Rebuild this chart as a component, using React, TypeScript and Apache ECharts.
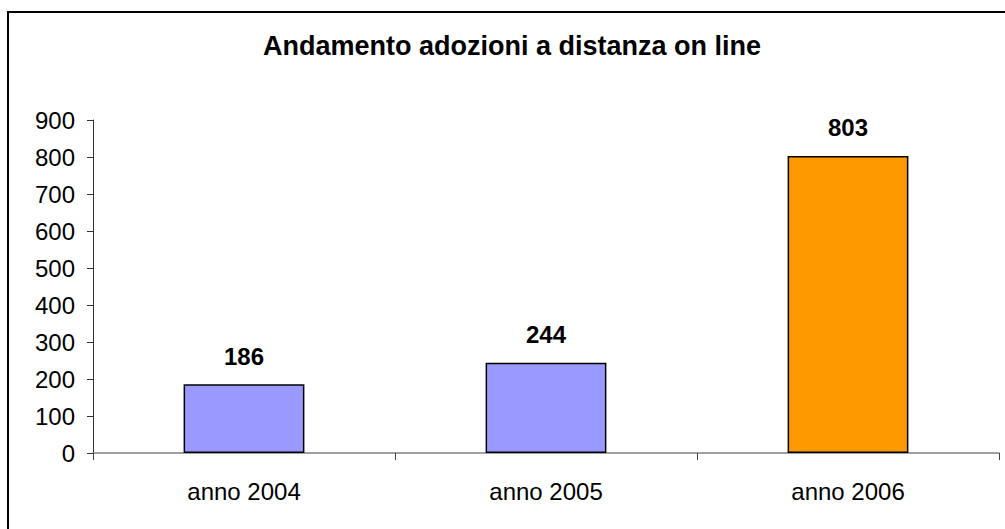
import React, { useEffect, useRef } from "react";
import * as echarts from "echarts";

const TITLE = "Andamento adozioni a distanza on line";
const categories = ["anno 2004", "anno 2005", "anno 2006"];
const values = [186, 244, 803];
const yTicks = [0, 100, 200, 300, 400, 500, 600, 700, 800, 900];

const BAR_COLORS = ["#9999FF", "#9999FF", "#FF9900"];
const FONT = "'Liberation Sans', Arial, sans-serif";

export default function App() {
  const ref = useRef<HTMLDivElement>(null);
  useEffect(() => {
    document.body.style.margin = "0";
    const chart = echarts.init(ref.current!, undefined, { renderer: "svg" });
    chart.setOption({
      animation: false,
      backgroundColor: "#ffffff",
      graphic: [
        {
          type: "rect",
          shape: { x: 8, y: 12, width: 1010, height: 530 },
          style: { fill: "none", stroke: "#000", lineWidth: 2 },
          silent: true,
        },
        {
          type: "text",
          x: 512,
          y: 46,
          style: {
            text: TITLE,
            font: `bold 27px ${FONT}`,
            fill: "#000",
            textAlign: "center",
            textVerticalAlign: "middle",
          },
        },
      ],
      grid: { left: 93, right: 6, top: 120, bottom: 76, containLabel: false },
      xAxis: {
        type: "category",
        data: categories,
        boundaryGap: true,
        axisLine: { lineStyle: { color: "#808080", width: 1.5 } },
        axisTick: { show: true, length: 7, lineStyle: { color: "#404040", width: 1 } },
        axisLabel: { color: "#000", fontFamily: FONT, fontSize: 24, margin: 26 },
        splitLine: { show: false },
      },
      yAxis: {
        type: "value",
        min: yTicks[0],
        max: yTicks[yTicks.length - 1],
        interval: 100,
        axisLine: { show: true, lineStyle: { color: "#333", width: 1 } },
        axisTick: { show: true, length: 6, lineStyle: { color: "#333", width: 1 } },
        axisLabel: { color: "#000", fontFamily: FONT, fontSize: 24, margin: 18 },
        splitLine: { show: false },
      },
      series: [
        {
          type: "bar",
          barWidth: "40%",
          data: values.map((v, i) => ({
            value: v,
            itemStyle: { color: BAR_COLORS[i], borderColor: "#000", borderWidth: 1.5 },
          })),
          label: {
            show: true,
            position: "top",
            distance: 16,
            color: "#000",
            fontFamily: FONT,
            fontSize: 24,
            fontWeight: "bold",
          },
        },
      ],
    });
    return () => chart.dispose();
  }, []);
  return <div ref={ref} style={{ width: 1005, height: 529 }} />;
}
